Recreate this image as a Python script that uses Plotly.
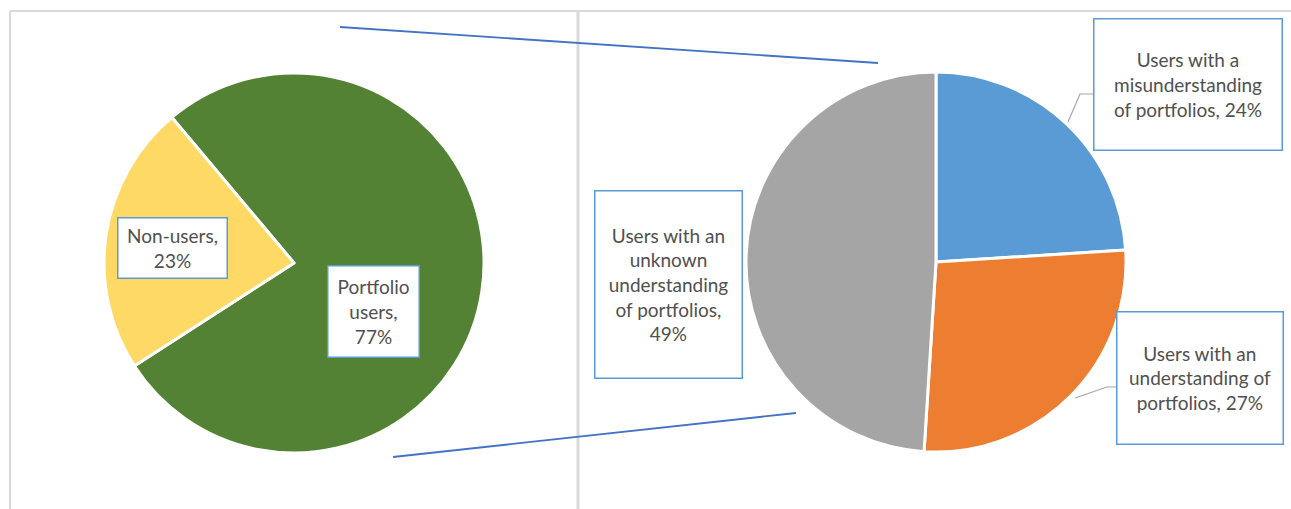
import plotly.graph_objects as go

# %% Данные
users_labels = ["Portfolio<br>users", "Non-users"]
users_values = [77, 23]
users_colors = ["#548235", "#FFD966"]

portf_labels = ["Users with a<br>misunderstanding<br>of portfolios",
                "Users with an<br>understanding of<br>portfolios",
                "Users with an<br>unknown<br>understanding<br>of portfolios"]
portf_values = [24, 27, 49]
portf_colors = ["#5B9BD5", "#ED7D31", "#A5A5A5"]

# %% Размеры
W, H = 1291, 509


def px(x):
    return x / W


def py(y):
    return 1 - y / H


fig = go.Figure()

fig.add_trace(go.Pie(
    labels=[l.replace("<br>", " ") for l in users_labels], values=users_values,
    marker=dict(colors=users_colors, line=dict(color="white", width=3)),
    sort=False, direction="clockwise", rotation=-40,
    textinfo="none", showlegend=False,
    domain=dict(x=[px(104), px(484)], y=[py(453), py(73)])))

fig.add_trace(go.Pie(
    labels=[l.replace("<br>", " ") for l in portf_labels], values=portf_values,
    marker=dict(colors=portf_colors, line=dict(color="white", width=3)),
    sort=False, direction="clockwise", rotation=0,
    textinfo="none", showlegend=False,
    domain=dict(x=[px(746), px(1126)], y=[py(452), py(72)])))

# подписи: (центр x, центр y, ширина, высота) в пикселях
users_boxes = [(373, 311, 92, 92), (172, 248, 110, 61)]
portf_boxes = [(1188, 85, 189, 132), (1200, 378, 167, 133), (668, 284, 148, 188)]

annots = []
for lab, val, (cx, cy, w, h) in list(zip(users_labels, users_values, users_boxes)) + \
        list(zip(portf_labels, portf_values, portf_boxes)):
    sep = "<br>" if lab.startswith(("Portfolio", "Non")) or "unknown" in lab else " "
    txt = lab + "," + sep + f"{val}%"
    annots.append(dict(
        x=px(cx), y=py(cy), xref="paper", yref="paper",
        text=txt, showarrow=False, xanchor="center", yanchor="middle",
        width=w - 4, height=h - 4, borderpad=1,
        bgcolor="white", bordercolor="#5B9BD5", borderwidth=1.5,
        font=dict(family="Lato, Open Sans, sans-serif", size=19, color="#505050")))

line = dict(type="line", xref="paper", yref="paper")
shapes = [
    # рамка и разделитель
    dict(line, x0=px(10), y0=py(11), x1=px(10), y1=0, line=dict(color="#D9D9D9", width=2)),
    dict(line, x0=px(10), y0=py(11), x1=1, y1=py(11), line=dict(color="#D9D9D9", width=2)),
    dict(line, x0=px(578), y0=py(11), x1=px(578), y1=0, line=dict(color="#D9D9D9", width=3)),
    # соединительные линии
    dict(line, x0=px(340), y0=py(27), x1=px(878), y1=py(63), line=dict(color="#4472C4", width=1.8)),
    dict(line, x0=px(393), y0=py(457), x1=px(796), y1=py(413), line=dict(color="#4472C4", width=1.8)),
    # выноски
    dict(type="path", xref="paper", yref="paper",
         path=f"M {px(1068)} {py(122)} L {px(1080)} {py(94)} L {px(1093)} {py(94)}",
         line=dict(color="#A6A6A6", width=1.2)),
    dict(type="path", xref="paper", yref="paper",
         path=f"M {px(1075)} {py(398)} L {px(1107)} {py(387)} L {px(1116)} {py(387)}",
         line=dict(color="#A6A6A6", width=1.2)),
]

fig.update_layout(width=W, height=H, margin=dict(l=0, r=0, t=0, b=0),
                  paper_bgcolor="white", plot_bgcolor="white",
                  annotations=annots, shapes=shapes)
fig.write_html("out.html", config={"displayModeBar": False},
               post_script="document.body.style.margin='0px';")
